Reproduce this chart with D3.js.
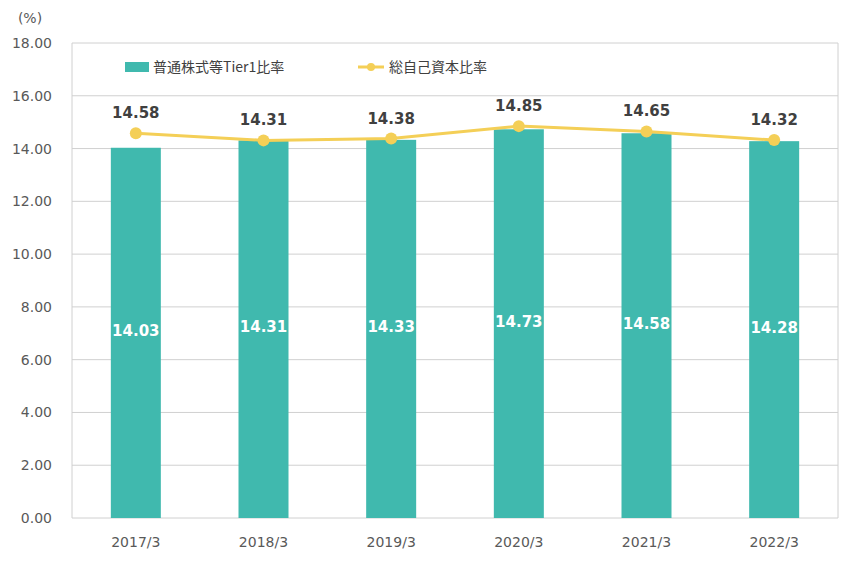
<!DOCTYPE html>
<html>
<head>
<meta charset="utf-8">
<style>
body { margin: 0; background: #fff; }
text { font-family: "DejaVu Sans", Verdana, sans-serif; }
</style>
</head>
<body>
<svg id="chart" width="848" height="565"></svg>
<script src="https://cdnjs.cloudflare.com/ajax/libs/d3/7.8.5/d3.min.js"></script>
<script>
const years = ['2017/3', '2018/3', '2019/3', '2020/3', '2021/3', '2022/3'];
const cet1 = [14.03, 14.31, 14.33, 14.73, 14.58, 14.28];
const total = [14.58, 14.31, 14.38, 14.85, 14.65, 14.32];
const yTicks = [0, 2, 4, 6, 8, 10, 12, 14, 16, 18];

const teal = '#40B9AE', gold = '#F4CF57';
const svg = d3.select('#chart');
const L = 72, R = 838, T = 43, B = 518;

const x = d3.scaleBand().domain(years).range([L, R]);
const y = d3.scaleLinear().domain([0, 18]).range([B, T]);

// gridlines
svg.append('g').selectAll('line').data(yTicks).join('line')
  .attr('x1', L).attr('x2', R)
  .attr('y1', d => y(d)).attr('y2', d => y(d))
  .attr('stroke', '#d0d0d0').attr('stroke-width', 1);
svg.append('line').attr('x1', L).attr('x2', L).attr('y1', T).attr('y2', B).attr('stroke', '#d0d0d0');
svg.append('line').attr('x1', R).attr('x2', R).attr('y1', T).attr('y2', B).attr('stroke', '#d0d0d0');

svg.append('g').selectAll('text').data(yTicks).join('text')
  .attr('x', 52).attr('y', d => y(d) + 5).attr('text-anchor', 'end')
  .attr('font-size', 14).attr('fill', '#595959')
  .text(d => d.toFixed(2));
svg.append('text').attr('x', 30).attr('y', 23).attr('text-anchor', 'middle')
  .attr('font-size', 14).attr('fill', '#595959').text('(%)');

svg.append('g').selectAll('text').data(years).join('text')
  .attr('x', d => x(d) + x.bandwidth() / 2).attr('y', 547).attr('text-anchor', 'middle')
  .attr('font-size', 14).attr('fill', '#595959').text(d => d);

// bars
const bw = 50;
svg.append('g').selectAll('rect').data(cet1).join('rect')
  .attr('x', (d, i) => x(years[i]) + x.bandwidth() / 2 - bw / 2)
  .attr('width', bw)
  .attr('y', d => y(d)).attr('height', d => B - y(d))
  .attr('fill', teal);
svg.append('g').selectAll('text').data(cet1).join('text')
  .attr('x', (d, i) => x(years[i]) + x.bandwidth() / 2)
  .attr('y', d => y(d / 2) + 3).attr('text-anchor', 'middle')
  .attr('font-size', 15).attr('font-weight', 'bold').attr('fill', '#fff')
  .text(d => d.toFixed(2));

// line
const line = d3.line().x((d, i) => x(years[i]) + x.bandwidth() / 2).y(d => y(d));
svg.append('path').datum(total).attr('d', line)
  .attr('fill', 'none').attr('stroke', gold).attr('stroke-width', 3);
svg.append('g').selectAll('circle').data(total).join('circle')
  .attr('cx', (d, i) => x(years[i]) + x.bandwidth() / 2).attr('cy', d => y(d))
  .attr('r', 6).attr('fill', gold);
svg.append('g').selectAll('text').data(total).join('text')
  .attr('x', (d, i) => x(years[i]) + x.bandwidth() / 2)
  .attr('y', d => y(d) - 15).attr('text-anchor', 'middle')
  .attr('font-size', 15).attr('font-weight', 'bold').attr('fill', '#404040')
  .text(d => d.toFixed(2));

// legend
const lg = svg.append('g').attr('font-family', '"Noto Sans CJK JP", sans-serif');
lg.append('rect').attr('x', 125).attr('y', 62).attr('width', 24).attr('height', 10).attr('fill', teal);
lg.append('text').attr('x', 153).attr('y', 72).attr('font-size', 14).attr('fill', '#404040')
  .style('font-family', '"Noto Sans CJK JP", sans-serif').text('普通株式等Tier1比率');
lg.append('line').attr('x1', 358).attr('x2', 384).attr('y1', 67).attr('y2', 67).attr('stroke', gold).attr('stroke-width', 3);
lg.append('circle').attr('cx', 371).attr('cy', 67).attr('r', 4).attr('fill', gold);
lg.append('text').attr('x', 389).attr('y', 72).attr('font-size', 14).attr('fill', '#404040')
  .style('font-family', '"Noto Sans CJK JP", sans-serif').text('総自己資本比率');
</script>
</body>
</html>
